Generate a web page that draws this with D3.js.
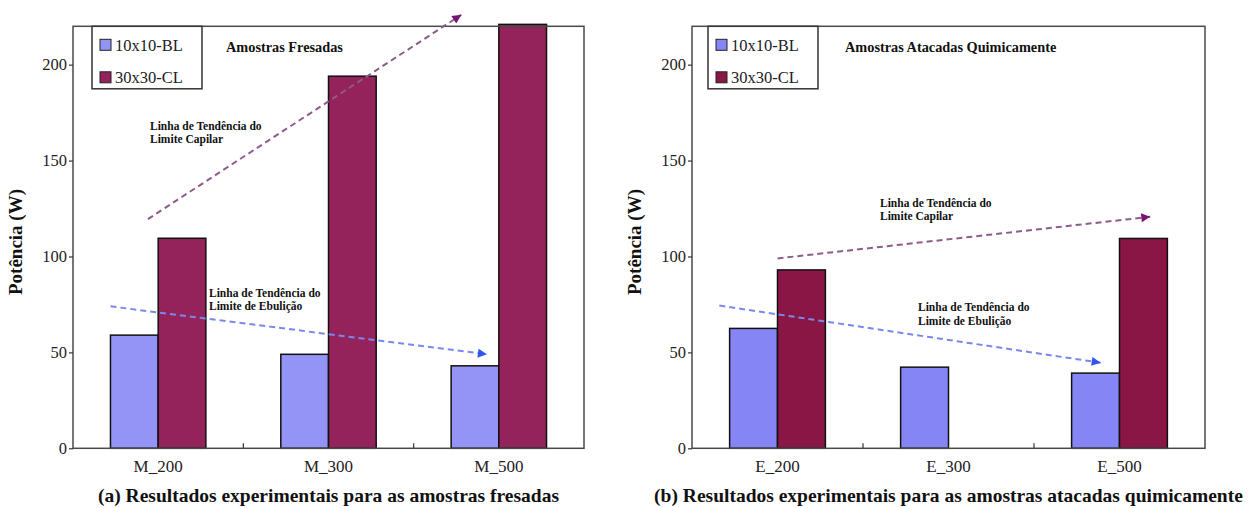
<!DOCTYPE html>
<html>
<head>
<meta charset="utf-8">
<script src="https://cdn.jsdelivr.net/npm/d3@7/dist/d3.min.js"></script>
<style>
  html, body { margin: 0; padding: 0; background: #fff; }
  svg, svg text { font-family: "Liberation Serif", "Times New Roman", Tinos, "DejaVu Serif", "Noto Serif", serif; }
</style>
</head>
<body>
<svg id="chart" width="1253" height="508"></svg>
<script>
// Heat-pipe power limits for two surface treatments (milled vs. chemically etched)
const seriesNames = ["10x10-BL", "30x30-CL"];
const yTicks = [0, 50, 100, 150, 200];

// (a) milled samples
const categoriesA = ["M_200", "M_300", "M_500"];
const blA = [59, 49, 43];
const clA = [109.5, 194, 221];

// (b) chemically etched samples (no 30x30-CL result for E_300)
const categoriesB = ["E_200", "E_300", "E_500"];
const blB = [62.5, 42.3, 39.2];
const clB = [93, null, 109.4];

// trend lines: [category position (0 = first group centre), power in W]
const capillaryA = [[-0.06, 119.5], [1.78, 226]];
const boilingA   = [[-0.28, 74], [1.93, 49]];
const capillaryB = [[0.0, 99], [2.18, 120.7]];
const boilingB   = [[-0.34, 74.4], [1.89, 44.6]];

const titleA = "Amostras Fresadas";
const titleB = "Amostras Atacadas Quimicamente";
const captionA = "(a) Resultados experimentais para as amostras fresadas";
const captionB = "(b) Resultados experimentais para as amostras atacadas quimicamente";
const capLabel = ["Linha de Tendência do", "Limite Capilar"];
const boilLabel = ["Linha de Tendência do", "Limite de Ebulição"];
const yLabel = "Potência (W)";

const FONT = '"Liberation Serif", "Times New Roman", Tinos, "DejaVu Serif", "Noto Serif", serif';
const svg = d3.select("#chart");

const defs = svg.append("defs");
function arrowMarker(id, color) {
  defs.append("marker")
    .attr("id", id)
    .attr("viewBox", "0 0 10 10")
    .attr("refX", 10).attr("refY", 5)
    .attr("markerUnits", "userSpaceOnUse")
    .attr("markerWidth", 10).attr("markerHeight", 9)
    .attr("orient", "auto")
    .append("path").attr("d", "M0,0 L10,5 L0,10 Z").attr("fill", color);
}
arrowMarker("arrowPurple", "#7a1473");
arrowMarker("arrowBlue", "#2f55f2");

function drawPanel(cfg) {
  const g = svg.append("g").style("font-family", FONT);
  const top = 26.3, bottom = 448.3;

  const x = d3.scaleBand().domain(cfg.categories).range([cfg.x0, cfg.x1]).padding(0);
  const y = d3.scaleLinear().domain([0, 220]).range([bottom, top]);
  const step = x.step();
  const bw = step * 0.28;
  const centre = c => x(c) + step / 2;
  // continuous position along the category axis, for the trend arrows
  const pos = d3.scaleLinear().domain([0, 1]).range([centre(cfg.categories[0]), centre(cfg.categories[0]) + step]);

  // bars
  const rows = cfg.categories.map((c, i) => ({ c, bl: cfg.bl[i], cl: cfg.cl[i] }));
  g.selectAll("rect.bl").data(rows).join("rect")
    .attr("x", d => centre(d.c) - bw).attr("width", bw)
    .attr("y", d => y(d.bl)).attr("height", d => y(0) - y(d.bl))
    .attr("fill", cfg.colors[0]).attr("stroke", "#111").attr("stroke-width", 1.5);
  g.selectAll("rect.cl").data(rows.filter(d => d.cl != null)).join("rect")
    .attr("x", d => centre(d.c)).attr("width", bw)
    .attr("y", d => y(d.cl)).attr("height", d => y(0) - y(d.cl))
    .attr("fill", cfg.colors[1]).attr("stroke", "#111").attr("stroke-width", 1.5);

  // frame
  g.append("rect")
    .attr("x", cfg.x0).attr("y", top)
    .attr("width", cfg.x1 - cfg.x0).attr("height", bottom - top)
    .attr("fill", "none").attr("stroke", "#4a4a4a").attr("stroke-width", 1.5);

  // y axis
  const ya = g.append("g").attr("transform", `translate(${cfg.x0},0)`)
    .call(d3.axisLeft(y).tickValues(yTicks).tickSize(4).tickPadding(2).tickFormat(d3.format("d")));
  ya.attr("font-family", null);
  ya.select(".domain").remove();
  ya.selectAll("line").attr("stroke", "#333").attr("stroke-width", 1.2);
  ya.selectAll("text").attr("font-size", "16.5px").attr("fill", "#222").style("font-family", FONT);

  // x axis
  const xa = g.append("g").attr("transform", `translate(0,${bottom})`)
    .call(d3.axisBottom(x).tickSize(0).tickPadding(12));
  xa.attr("font-family", null);
  xa.select(".domain").remove();
  xa.selectAll("text").attr("font-size", "17px").attr("fill", "#222").style("font-family", FONT);
  // inner separators between groups
  g.selectAll("line.sep").data(cfg.categories.slice(1)).join("line")
    .attr("x1", d => x(d)).attr("x2", d => x(d))
    .attr("y1", bottom).attr("y2", bottom - 5)
    .attr("stroke", "#333").attr("stroke-width", 1.2);

  // y label
  g.append("text")
    .attr("transform", `translate(${cfg.x0 - 51},${242}) rotate(-90)`)
    .attr("text-anchor", "middle")
    .attr("font-size", "19px").attr("font-weight", "bold").attr("fill", "#111")
    .text(yLabel);

  // legend
  const lg = g.append("g").attr("transform", `translate(${cfg.x0 + cfg.legendDx},${top})`);
  lg.append("rect").attr("width", 110).attr("height", 62.5)
    .attr("fill", "#fff").attr("stroke", "#333").attr("stroke-width", 1.5);
  seriesNames.forEach((s, i) => {
    lg.append("rect").attr("x", 8).attr("y", 13 + i * 32.5).attr("width", 11).attr("height", 11)
      .attr("fill", cfg.colors[i]).attr("stroke", "#222").attr("stroke-width", 1);
    lg.append("text").attr("x", 23).attr("y", 24.3 + i * 32.5)
      .attr("font-size", "16.5px").attr("fill", "#222").text(s);
  });

  // panel title
  g.append("text").attr("x", cfg.x0 + 153).attr("y", 51.5)
    .attr("font-size", "14.3px").attr("font-weight", "bold").attr("fill", "#111")
    .text(cfg.title);

  // trend arrows
  const line = d3.line().x(d => pos(d[0])).y(d => y(d[1]));
  g.append("path").datum(cfg.capillary).attr("d", line)
    .attr("fill", "none").attr("stroke", "#8e5c8a").attr("stroke-width", 2)
    .attr("stroke-dasharray", "6,4").attr("marker-end", "url(#arrowPurple)");
  g.append("path").datum(cfg.boiling).attr("d", line)
    .attr("fill", "none").attr("stroke", "#7a88ee").attr("stroke-width", 2)
    .attr("stroke-dasharray", "6,4").attr("marker-end", "url(#arrowBlue)");

  // trend labels
  function label(lines, px, py) {
    const t = g.append("text").attr("font-size", "11.5px").attr("font-weight", "bold").attr("fill", "#111");
    lines.forEach((l, i) => t.append("tspan").attr("x", px).attr("y", py + i * 13.5).text(l));
  }
  label(capLabel, cfg.x0 + cfg.capText[0], cfg.capText[1]);
  label(boilLabel, cfg.x0 + cfg.boilText[0], cfg.boilText[1]);

  // caption
  g.append("text").attr("x", (cfg.x0 + cfg.x1) / 2).attr("y", 502)
    .attr("text-anchor", "middle")
    .attr("font-size", "19.5px").attr("font-weight", "bold").attr("fill", "#111")
    .text(cfg.caption);
}

drawPanel({
  categories: categoriesA, bl: blA, cl: clA,
  capillary: capillaryA, boiling: boilingA,
  title: titleA, caption: captionA,
  x0: 73, x1: 584, legendDx: 19,
  capText: [77, 129.5], boilText: [136, 296.5],
  colors: ["#9494f7", "#93235a"]
});

drawPanel({
  categories: categoriesB, bl: blB, cl: clB,
  capillary: capillaryB, boiling: boilingB,
  title: titleB, caption: captionB,
  x0: 692, x1: 1205, legendDx: 16,
  capText: [188, 206.5], boilText: [226, 311],
  colors: ["#8585f5", "#8a1646"]
});
</script>
</body>
</html>
